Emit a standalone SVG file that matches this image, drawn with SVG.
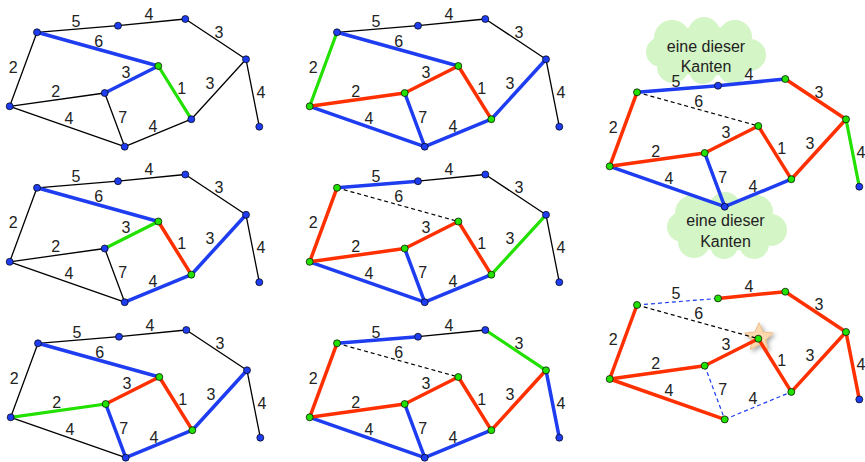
<svg xmlns="http://www.w3.org/2000/svg" width="865" height="462" viewBox="0 0 865 462">
<style>
line{fill:none;stroke-linecap:round}
.k{stroke:#000;stroke-width:1.3}
.b{stroke:#1e3cf0;stroke-width:3.5}
.r{stroke:#ff3000;stroke-width:3.5}
.g{stroke:#22e000;stroke-width:3.2}
.kd{stroke:#000;stroke-width:1.2;stroke-dasharray:4 3;stroke-linecap:butt}
.bd{stroke:#1e3cf0;stroke-width:1.2;stroke-dasharray:4 3;stroke-linecap:butt}
.nb{fill:#1e3cf0;stroke:#000;stroke-width:0.7}
.ng{fill:#22e000;stroke:#000;stroke-width:0.7}
text{font-family:"Liberation Sans",Arial,sans-serif;font-size:16px;fill:#222;text-anchor:middle}
.cloud{fill:#d4f5c6}
</style>
<defs>
<filter id="sh" x="-50%" y="-50%" width="200%" height="200%">
<feGaussianBlur in="SourceAlpha" stdDeviation="2"/>
<feOffset dx="1.5" dy="1.5" result="o"/>
<feFlood flood-color="#000" flood-opacity="0.35"/>
<feComposite in2="o" operator="in"/>
<feMerge><feMergeNode/><feMergeNode in="SourceGraphic"/></feMerge>
</filter>
</defs>

<!-- clouds for panel 3 -->
<g id="cloud-top" class="cloud">
<ellipse cx="706" cy="51" rx="50" ry="25"/>
<circle cx="672" cy="38" r="18"/><circle cx="704" cy="33" r="16"/><circle cx="735" cy="37" r="17"/>
<circle cx="750" cy="55" r="16"/><circle cx="733" cy="69" r="15"/><circle cx="703" cy="70" r="14"/>
<circle cx="673" cy="67" r="16"/><circle cx="661" cy="52" r="15"/>
<text x="706" y="51.7">eine dieser</text><text x="706" y="71.7">Kanten</text>
</g>
<g id="cloud-bottom" class="cloud">
<ellipse cx="727" cy="226" rx="50" ry="25"/>
<circle cx="693" cy="213" r="18"/><circle cx="725" cy="208" r="16"/><circle cx="756" cy="212" r="17"/>
<circle cx="771" cy="230" r="16"/><circle cx="754" cy="244" r="15"/><circle cx="724" cy="245" r="14"/>
<circle cx="694" cy="242" r="16"/><circle cx="682" cy="227" r="15"/>
<text x="725.5" y="226">eine dieser</text><text x="725.5" y="246.5">Kanten</text>
</g>

<!-- PANEL 1 -->
<g id="panel1" transform="translate(0,0)">
<g id="p1-edges">
<line class="k" x1="37" y1="32.3" x2="118" y2="25.7"/>
<line class="k" x1="118" y1="25.7" x2="185.3" y2="19"/>
<line class="k" x1="185.3" y1="19" x2="246" y2="59.3"/>
<line class="k" x1="246" y1="59.3" x2="259.3" y2="126.7"/>
<line class="k" x1="37" y1="32.3" x2="9.7" y2="106.3"/>
<line class="k" x1="9.7" y1="106.3" x2="104.7" y2="93"/>
<line class="k" x1="191.3" y1="119.2" x2="246" y2="59.3"/>
<line class="k" x1="9.7" y1="106.3" x2="124.7" y2="146.7"/>
<line class="k" x1="104.7" y1="93" x2="124.7" y2="146.7"/>
<line class="k" x1="124.7" y1="146.7" x2="191.3" y2="119.2"/>
<line class="b" x1="37" y1="32.3" x2="158.3" y2="66"/>
<line class="b" x1="104.7" y1="93" x2="158.3" y2="66"/>
<line class="g" x1="158.3" y1="66" x2="191.3" y2="119.2"/>
<text x="76" y="26.7">5</text><text x="149" y="19.7">4</text><text x="219" y="37.7">3</text><text x="98.7" y="46.7">6</text><text x="13.3" y="72.7">2</text><text x="126" y="77.7">3</text><text x="181.7" y="93.7">1</text><text x="210" y="88.7">3</text><text x="261" y="97.7">4</text><text x="55.7" y="96.7">2</text><text x="69" y="123.7">4</text><text x="122.7" y="122.7">7</text><text x="153" y="131.7">4</text>
</g>
<g id="p1-A"><circle class="nb" cx="37" cy="32.3" r="3.5"/></g>
<g id="p1-B"><circle class="nb" cx="118" cy="25.7" r="3.5"/></g>
<g id="p1-C"><circle class="nb" cx="185.3" cy="19" r="3.5"/></g>
<g id="p1-D"><circle class="nb" cx="246" cy="59.3" r="3.5"/></g>
<g id="p1-E"><circle class="nb" cx="259.3" cy="126.7" r="3.5"/></g>
<g id="p1-F"><circle class="ng" cx="158.3" cy="66" r="3.5"/></g>
<g id="p1-G"><circle class="nb" cx="104.7" cy="93" r="3.5"/></g>
<g id="p1-H"><circle class="nb" cx="9.7" cy="106.3" r="3.5"/></g>
<g id="p1-I"><circle class="nb" cx="124.7" cy="146.7" r="3.5"/></g>
<g id="p1-J"><circle class="nb" cx="191.3" cy="119.2" r="3.5"/></g>
</g>

<!-- PANEL 2 -->
<g id="panel2" transform="translate(300,0)">
<g id="p2-edges">
<line class="k" x1="37" y1="32.3" x2="118" y2="25.7"/>
<line class="k" x1="118" y1="25.7" x2="185.3" y2="19"/>
<line class="k" x1="185.3" y1="19" x2="246" y2="59.3"/>
<line class="k" x1="246" y1="59.3" x2="259.3" y2="126.7"/>
<line class="b" x1="37" y1="32.3" x2="158.3" y2="66"/>
<line class="b" x1="191.3" y1="119.2" x2="246" y2="59.3"/>
<line class="b" x1="9.7" y1="106.3" x2="124.7" y2="146.7"/>
<line class="b" x1="104.7" y1="93" x2="124.7" y2="146.7"/>
<line class="b" x1="124.7" y1="146.7" x2="191.3" y2="119.2"/>
<line class="g" x1="37" y1="32.3" x2="9.7" y2="106.3"/>
<line class="r" x1="9.7" y1="106.3" x2="104.7" y2="93"/>
<line class="r" x1="104.7" y1="93" x2="158.3" y2="66"/>
<line class="r" x1="158.3" y1="66" x2="191.3" y2="119.2"/>
<text x="76" y="26.7">5</text><text x="149" y="19.7">4</text><text x="219" y="37.7">3</text><text x="98.7" y="46.7">6</text><text x="13.3" y="72.7">2</text><text x="126" y="77.7">3</text><text x="181.7" y="93.7">1</text><text x="210" y="88.7">3</text><text x="261" y="97.7">4</text><text x="55.7" y="96.7">2</text><text x="69" y="123.7">4</text><text x="122.7" y="122.7">7</text><text x="153" y="131.7">4</text>
</g>
<g id="p2-A"><circle class="nb" cx="37" cy="32.3" r="3.5"/></g>
<g id="p2-B"><circle class="nb" cx="118" cy="25.7" r="3.5"/></g>
<g id="p2-C"><circle class="nb" cx="185.3" cy="19" r="3.5"/></g>
<g id="p2-D"><circle class="nb" cx="246" cy="59.3" r="3.5"/></g>
<g id="p2-E"><circle class="nb" cx="259.3" cy="126.7" r="3.5"/></g>
<g id="p2-F"><circle class="ng" cx="158.3" cy="66" r="3.5"/></g>
<g id="p2-G"><circle class="ng" cx="104.7" cy="93" r="3.5"/></g>
<g id="p2-H"><circle class="ng" cx="9.7" cy="106.3" r="3.5"/></g>
<g id="p2-I"><circle class="nb" cx="124.7" cy="146.7" r="3.5"/></g>
<g id="p2-J"><circle class="ng" cx="191.3" cy="119.2" r="3.5"/></g>
</g>

<!-- PANEL 3 -->
<g id="panel3" transform="translate(600,60)">
<g id="p3-edges">
<line class="kd" x1="37" y1="32.3" x2="158.3" y2="66"/>
<line class="b" x1="37" y1="32.3" x2="118" y2="25.7"/>
<line class="b" x1="118" y1="25.7" x2="185.3" y2="19"/>
<line class="b" x1="9.7" y1="106.3" x2="124.7" y2="146.7"/>
<line class="b" x1="104.7" y1="93" x2="124.7" y2="146.7"/>
<line class="b" x1="124.7" y1="146.7" x2="191.3" y2="119.2"/>
<line class="r" x1="185.3" y1="19" x2="246" y2="59.3"/>
<line class="g" x1="246" y1="59.3" x2="259.3" y2="126.7"/>
<line class="r" x1="37" y1="32.3" x2="9.7" y2="106.3"/>
<line class="r" x1="9.7" y1="106.3" x2="104.7" y2="93"/>
<line class="r" x1="104.7" y1="93" x2="158.3" y2="66"/>
<line class="r" x1="158.3" y1="66" x2="191.3" y2="119.2"/>
<line class="r" x1="191.3" y1="119.2" x2="246" y2="59.3"/>
<text x="76" y="26.7">5</text><text x="149" y="19.7">4</text><text x="219" y="37.7">3</text><text x="98.7" y="46.7">6</text><text x="13.3" y="72.7">2</text><text x="126" y="77.7">3</text><text x="181.7" y="93.7">1</text><text x="210" y="88.7">3</text><text x="261" y="97.7">4</text><text x="55.7" y="96.7">2</text><text x="69" y="123.7">4</text><text x="122.7" y="122.7">7</text><text x="153" y="131.7">4</text>
</g>
<g id="p3-A"><circle class="ng" cx="37" cy="32.3" r="3.5"/></g>
<g id="p3-B"><circle class="nb" cx="118" cy="25.7" r="3.5"/></g>
<g id="p3-C"><circle class="ng" cx="185.3" cy="19" r="3.5"/></g>
<g id="p3-D"><circle class="ng" cx="246" cy="59.3" r="3.5"/></g>
<g id="p3-E"><circle class="nb" cx="259.3" cy="126.7" r="3.5"/></g>
<g id="p3-F"><circle class="ng" cx="158.3" cy="66" r="3.5"/></g>
<g id="p3-G"><circle class="ng" cx="104.7" cy="93" r="3.5"/></g>
<g id="p3-H"><circle class="ng" cx="9.7" cy="106.3" r="3.5"/></g>
<g id="p3-I"><circle class="nb" cx="124.7" cy="146.7" r="3.5"/></g>
<g id="p3-J"><circle class="ng" cx="191.3" cy="119.2" r="3.5"/></g>
</g>

<!-- PANEL 4 -->
<g id="panel4" transform="translate(0,155.5)">
<g id="p4-edges">
<line class="k" x1="37" y1="32.3" x2="118" y2="25.7"/>
<line class="k" x1="118" y1="25.7" x2="185.3" y2="19"/>
<line class="k" x1="185.3" y1="19" x2="246" y2="59.3"/>
<line class="k" x1="246" y1="59.3" x2="259.3" y2="126.7"/>
<line class="k" x1="37" y1="32.3" x2="9.7" y2="106.3"/>
<line class="k" x1="9.7" y1="106.3" x2="104.7" y2="93"/>
<line class="k" x1="9.7" y1="106.3" x2="124.7" y2="146.7"/>
<line class="k" x1="104.7" y1="93" x2="124.7" y2="146.7"/>
<line class="b" x1="37" y1="32.3" x2="158.3" y2="66"/>
<line class="b" x1="191.3" y1="119.2" x2="246" y2="59.3"/>
<line class="b" x1="124.7" y1="146.7" x2="191.3" y2="119.2"/>
<line class="g" x1="104.7" y1="93" x2="158.3" y2="66"/>
<line class="r" x1="158.3" y1="66" x2="191.3" y2="119.2"/>
<text x="76" y="26.7">5</text><text x="149" y="19.7">4</text><text x="219" y="37.7">3</text><text x="98.7" y="46.7">6</text><text x="13.3" y="72.7">2</text><text x="126" y="77.7">3</text><text x="181.7" y="93.7">1</text><text x="210" y="88.7">3</text><text x="261" y="97.7">4</text><text x="55.7" y="96.7">2</text><text x="69" y="123.7">4</text><text x="122.7" y="122.7">7</text><text x="153" y="131.7">4</text>
</g>
<g id="p4-A"><circle class="nb" cx="37" cy="32.3" r="3.5"/></g>
<g id="p4-B"><circle class="nb" cx="118" cy="25.7" r="3.5"/></g>
<g id="p4-C"><circle class="nb" cx="185.3" cy="19" r="3.5"/></g>
<g id="p4-D"><circle class="nb" cx="246" cy="59.3" r="3.5"/></g>
<g id="p4-E"><circle class="nb" cx="259.3" cy="126.7" r="3.5"/></g>
<g id="p4-F"><circle class="ng" cx="158.3" cy="66" r="3.5"/></g>
<g id="p4-G"><circle class="nb" cx="104.7" cy="93" r="3.5"/></g>
<g id="p4-H"><circle class="nb" cx="9.7" cy="106.3" r="3.5"/></g>
<g id="p4-I"><circle class="nb" cx="124.7" cy="146.7" r="3.5"/></g>
<g id="p4-J"><circle class="ng" cx="191.3" cy="119.2" r="3.5"/></g>
</g>

<!-- PANEL 5 -->
<g id="panel5" transform="translate(300,155.5)">
<g id="p5-edges">
<line class="k" x1="118" y1="25.7" x2="185.3" y2="19"/>
<line class="k" x1="185.3" y1="19" x2="246" y2="59.3"/>
<line class="k" x1="246" y1="59.3" x2="259.3" y2="126.7"/>
<line class="kd" x1="37" y1="32.3" x2="158.3" y2="66"/>
<line class="b" x1="37" y1="32.3" x2="118" y2="25.7"/>
<line class="b" x1="9.7" y1="106.3" x2="124.7" y2="146.7"/>
<line class="b" x1="104.7" y1="93" x2="124.7" y2="146.7"/>
<line class="b" x1="124.7" y1="146.7" x2="191.3" y2="119.2"/>
<line class="r" x1="37" y1="32.3" x2="9.7" y2="106.3"/>
<line class="r" x1="9.7" y1="106.3" x2="104.7" y2="93"/>
<line class="r" x1="104.7" y1="93" x2="158.3" y2="66"/>
<line class="r" x1="158.3" y1="66" x2="191.3" y2="119.2"/>
<line class="g" x1="191.3" y1="119.2" x2="246" y2="59.3"/>
<text x="76" y="26.7">5</text><text x="149" y="19.7">4</text><text x="219" y="37.7">3</text><text x="98.7" y="46.7">6</text><text x="13.3" y="72.7">2</text><text x="126" y="77.7">3</text><text x="181.7" y="93.7">1</text><text x="210" y="88.7">3</text><text x="261" y="97.7">4</text><text x="55.7" y="96.7">2</text><text x="69" y="123.7">4</text><text x="122.7" y="122.7">7</text><text x="153" y="131.7">4</text>
</g>
<g id="p5-A"><circle class="ng" cx="37" cy="32.3" r="3.5"/></g>
<g id="p5-B"><circle class="nb" cx="118" cy="25.7" r="3.5"/></g>
<g id="p5-C"><circle class="nb" cx="185.3" cy="19" r="3.5"/></g>
<g id="p5-D"><circle class="nb" cx="246" cy="59.3" r="3.5"/></g>
<g id="p5-E"><circle class="nb" cx="259.3" cy="126.7" r="3.5"/></g>
<g id="p5-F"><circle class="ng" cx="158.3" cy="66" r="3.5"/></g>
<g id="p5-G"><circle class="ng" cx="104.7" cy="93" r="3.5"/></g>
<g id="p5-H"><circle class="ng" cx="9.7" cy="106.3" r="3.5"/></g>
<g id="p5-I"><circle class="nb" cx="124.7" cy="146.7" r="3.5"/></g>
<g id="p5-J"><circle class="ng" cx="191.3" cy="119.2" r="3.5"/></g>
</g>

<!-- PANEL 6 (bottom right) -->
<g id="panel6" transform="translate(600,272.7)">
<polygon id="p6-star" filter="url(#sh)" fill="#fcd8ae" stroke="#eab47c" stroke-width="0.8" points="159,50 163.1,59.3 173.3,60.4 165.7,67.2 167.8,77.1 159,72 150.2,77.1 152.3,67.2 144.7,60.4 154.9,59.3"/>
<g id="p6-edges">
<line class="bd" x1="37" y1="32.3" x2="118" y2="25.7"/>
<line class="kd" x1="37" y1="32.3" x2="158.3" y2="66"/>
<line class="bd" x1="104.7" y1="93" x2="124.7" y2="146.7"/>
<line class="bd" x1="124.7" y1="146.7" x2="191.3" y2="119.2"/>
<line class="r" x1="118" y1="25.7" x2="185.3" y2="19"/>
<line class="r" x1="185.3" y1="19" x2="246" y2="59.3"/>
<line class="r" x1="246" y1="59.3" x2="259.3" y2="126.7"/>
<line class="r" x1="37" y1="32.3" x2="9.7" y2="106.3"/>
<line class="r" x1="9.7" y1="106.3" x2="104.7" y2="93"/>
<line class="r" x1="104.7" y1="93" x2="158.3" y2="66"/>
<line class="r" x1="158.3" y1="66" x2="191.3" y2="119.2"/>
<line class="r" x1="191.3" y1="119.2" x2="246" y2="59.3"/>
<line class="r" x1="9.7" y1="106.3" x2="124.7" y2="146.7"/>
<text x="76" y="26.7">5</text><text x="149" y="19.7">4</text><text x="219" y="37.7">3</text><text x="98.7" y="46.7">6</text><text x="13.3" y="72.7">2</text><text x="126" y="77.7">3</text><text x="181.7" y="93.7">1</text><text x="210" y="88.7">3</text><text x="261" y="97.7">4</text><text x="55.7" y="96.7">2</text><text x="69" y="123.7">4</text><text x="122.7" y="122.7">7</text><text x="153" y="131.7">4</text>
</g>
<g id="p6-A"><circle class="ng" cx="37" cy="32.3" r="3.5"/></g>
<g id="p6-B"><circle class="ng" cx="118" cy="25.7" r="3.5"/></g>
<g id="p6-C"><circle class="ng" cx="185.3" cy="19" r="3.5"/></g>
<g id="p6-D"><circle class="ng" cx="246" cy="59.3" r="3.5"/></g>
<g id="p6-E"><circle class="nb" cx="259.3" cy="126.7" r="3.5"/></g>
<g id="p6-F"><circle class="ng" cx="158.3" cy="66" r="3.5"/></g>
<g id="p6-G"><circle class="ng" cx="104.7" cy="93" r="3.5"/></g>
<g id="p6-H"><circle class="ng" cx="9.7" cy="106.3" r="3.5"/></g>
<g id="p6-I"><circle class="ng" cx="124.7" cy="146.7" r="3.5"/></g>
<g id="p6-J"><circle class="ng" cx="191.3" cy="119.2" r="3.5"/></g>
</g>

<!-- PANEL 7 -->
<g id="panel7" transform="translate(1,311)">
<g id="p7-edges">
<line class="k" x1="37" y1="32.3" x2="118" y2="25.7"/>
<line class="k" x1="118" y1="25.7" x2="185.3" y2="19"/>
<line class="k" x1="185.3" y1="19" x2="246" y2="59.3"/>
<line class="k" x1="246" y1="59.3" x2="259.3" y2="126.7"/>
<line class="k" x1="37" y1="32.3" x2="9.7" y2="106.3"/>
<line class="k" x1="9.7" y1="106.3" x2="124.7" y2="146.7"/>
<line class="b" x1="37" y1="32.3" x2="158.3" y2="66"/>
<line class="b" x1="191.3" y1="119.2" x2="246" y2="59.3"/>
<line class="b" x1="104.7" y1="93" x2="124.7" y2="146.7"/>
<line class="b" x1="124.7" y1="146.7" x2="191.3" y2="119.2"/>
<line class="g" x1="9.7" y1="106.3" x2="104.7" y2="93"/>
<line class="r" x1="104.7" y1="93" x2="158.3" y2="66"/>
<line class="r" x1="158.3" y1="66" x2="191.3" y2="119.2"/>
<text x="76" y="26.7">5</text><text x="149" y="19.7">4</text><text x="219" y="37.7">3</text><text x="98.7" y="46.7">6</text><text x="13.3" y="72.7">2</text><text x="126" y="77.7">3</text><text x="181.7" y="93.7">1</text><text x="210" y="88.7">3</text><text x="261" y="97.7">4</text><text x="55.7" y="96.7">2</text><text x="69" y="123.7">4</text><text x="122.7" y="122.7">7</text><text x="153" y="131.7">4</text>
</g>
<g id="p7-A"><circle class="nb" cx="37" cy="32.3" r="3.5"/></g>
<g id="p7-B"><circle class="nb" cx="118" cy="25.7" r="3.5"/></g>
<g id="p7-C"><circle class="nb" cx="185.3" cy="19" r="3.5"/></g>
<g id="p7-D"><circle class="nb" cx="246" cy="59.3" r="3.5"/></g>
<g id="p7-E"><circle class="nb" cx="259.3" cy="126.7" r="3.5"/></g>
<g id="p7-F"><circle class="ng" cx="158.3" cy="66" r="3.5"/></g>
<g id="p7-G"><circle class="ng" cx="104.7" cy="93" r="3.5"/></g>
<g id="p7-H"><circle class="nb" cx="9.7" cy="106.3" r="3.5"/></g>
<g id="p7-I"><circle class="nb" cx="124.7" cy="146.7" r="3.5"/></g>
<g id="p7-J"><circle class="ng" cx="191.3" cy="119.2" r="3.5"/></g>
</g>

<!-- PANEL 8 -->
<g id="panel8" transform="translate(300,311)">
<g id="p8-edges">
<line class="k" x1="118" y1="25.7" x2="185.3" y2="19"/>
<line class="kd" x1="37" y1="32.3" x2="158.3" y2="66"/>
<line class="b" x1="37" y1="32.3" x2="118" y2="25.7"/>
<line class="b" x1="246" y1="59.3" x2="259.3" y2="126.7"/>
<line class="b" x1="9.7" y1="106.3" x2="124.7" y2="146.7"/>
<line class="b" x1="104.7" y1="93" x2="124.7" y2="146.7"/>
<line class="b" x1="124.7" y1="146.7" x2="191.3" y2="119.2"/>
<line class="g" x1="185.3" y1="19" x2="246" y2="59.3"/>
<line class="r" x1="37" y1="32.3" x2="9.7" y2="106.3"/>
<line class="r" x1="9.7" y1="106.3" x2="104.7" y2="93"/>
<line class="r" x1="104.7" y1="93" x2="158.3" y2="66"/>
<line class="r" x1="158.3" y1="66" x2="191.3" y2="119.2"/>
<line class="r" x1="191.3" y1="119.2" x2="246" y2="59.3"/>
<text x="76" y="26.7">5</text><text x="149" y="19.7">4</text><text x="219" y="37.7">3</text><text x="98.7" y="46.7">6</text><text x="13.3" y="72.7">2</text><text x="126" y="77.7">3</text><text x="181.7" y="93.7">1</text><text x="210" y="88.7">3</text><text x="261" y="97.7">4</text><text x="55.7" y="96.7">2</text><text x="69" y="123.7">4</text><text x="122.7" y="122.7">7</text><text x="153" y="131.7">4</text>
</g>
<g id="p8-A"><circle class="ng" cx="37" cy="32.3" r="3.5"/></g>
<g id="p8-B"><circle class="nb" cx="118" cy="25.7" r="3.5"/></g>
<g id="p8-C"><circle class="nb" cx="185.3" cy="19" r="3.5"/></g>
<g id="p8-D"><circle class="ng" cx="246" cy="59.3" r="3.5"/></g>
<g id="p8-E"><circle class="nb" cx="259.3" cy="126.7" r="3.5"/></g>
<g id="p8-F"><circle class="ng" cx="158.3" cy="66" r="3.5"/></g>
<g id="p8-G"><circle class="ng" cx="104.7" cy="93" r="3.5"/></g>
<g id="p8-H"><circle class="ng" cx="9.7" cy="106.3" r="3.5"/></g>
<g id="p8-I"><circle class="nb" cx="124.7" cy="146.7" r="3.5"/></g>
<g id="p8-J"><circle class="ng" cx="191.3" cy="119.2" r="3.5"/></g>
</g>
</svg>
